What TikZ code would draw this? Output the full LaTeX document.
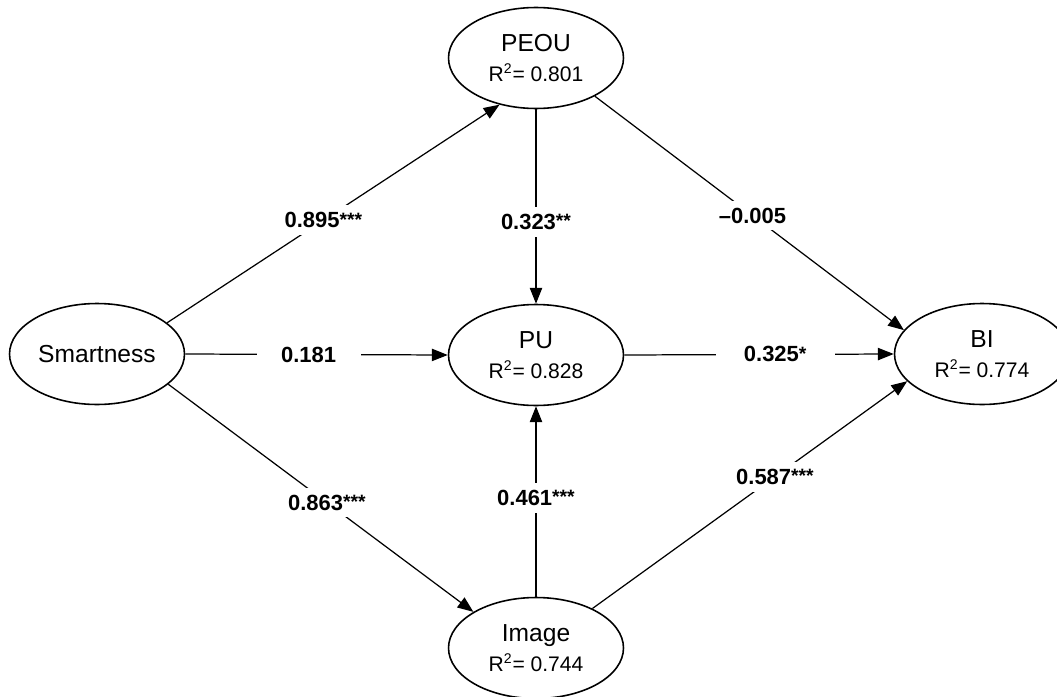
\documentclass[tikz,border=0pt]{standalone}
\usepackage{fontspec}
\setmainfont{Liberation Sans}
\usetikzlibrary{shapes.geometric, arrows.meta}
\newcommand{\rsq}[1]{{\fontsize{12}{14}\selectfont R\textsuperscript{2}= #1}}
\newcommand{\stars}[1]{\raisebox{1pt}{\fontsize{11}{13}\selectfont\bfseries #1}}
\tikzset{
    construct/.style = {draw, ellipse, line width = .9pt, inner sep = 0pt,
        minimum width = 3.5cm, minimum height = 2.02cm, align = center,
        font = \fontsize{14}{17}\selectfont},
    effect/.style = {line width = .7pt, -{Triangle[length = 9pt, width = 7pt]}},
    coefl/.style = {fill = white, inner xsep = 5pt, inner ysep = 4pt,
        font = \fontsize{12.5}{15}\selectfont\bfseries}
}
\begin{document}
\begin{tikzpicture}[x = 0.02cm, y = -0.02cm]
        \useasboundingbox (0, 0) rectangle (1057, 696);
        % constructs
        \node[construct] (smart) at (97, 354) {Smartness};
        \node[construct] (peou) at (536, 58) {PEOU\\\rsq{0.801}};
        \node[construct] (pu) at (536, 355) {PU\\\rsq{0.828}};
        \node[construct] (img) at (536, 648) {Image\\\rsq{0.744}};
        \node[construct] (bi) at (982, 354) {BI\\\rsq{0.774}};
        % paths
        \draw[effect] (smart.24) -- node[coefl, pos = .47] {0.895\stars{***}} (peou.232);
        \draw[effect] (smart.east) -- node[coefl, pos = .47, inner xsep = 14pt] {0.181} (pu.west);
        \draw[effect] (smart.-23) -- node[coefl, pos = .52] {0.863\stars{***}} (img.150);
        \draw[effect] (peou.south) -- node[coefl, pos = .58] {0.323\stars{**}} (pu.north);
        \draw[effect] (peou.-33) -- node[coefl, pos = .51] {--0.005} (bi.163);
        \draw[effect] (pu.east) -- node[coefl, pos = .56, inner xsep = 16pt] {0.325\stars{*}} (bi.west);
        \draw[effect] (img.north) -- node[coefl, pos = .52] {0.461\stars{***}} (pu.south);
        \draw[effect] (img.35) -- node[coefl, pos = .58] {0.587\stars{***}} (bi.200);
\end{tikzpicture}
\end{document}
